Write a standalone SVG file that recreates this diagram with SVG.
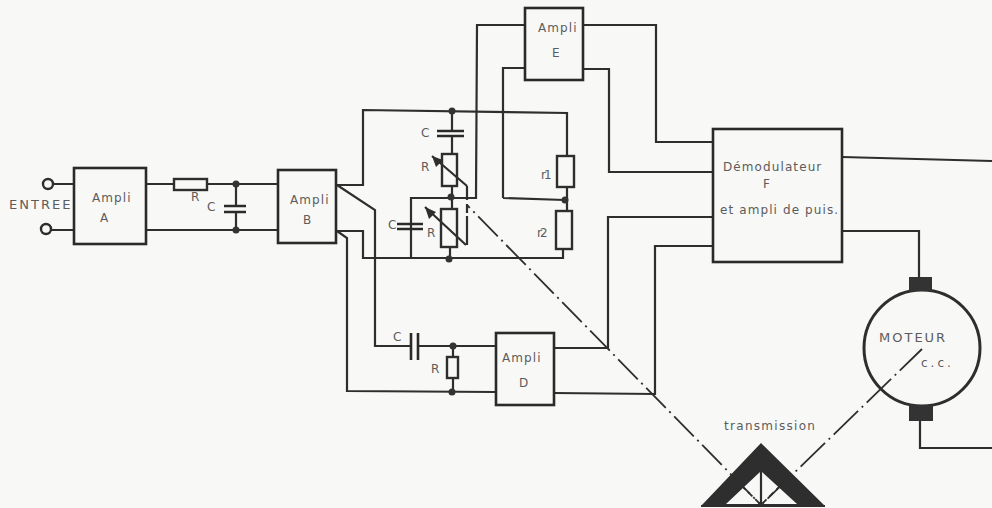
<svg xmlns="http://www.w3.org/2000/svg" width="992" height="508" viewBox="0 0 992 508">
<style>
.w{fill:none;stroke:#2e2e2e;stroke-width:2.2}
.b{fill:none;stroke:#2a2a2a;stroke-width:2.6}
.p{fill:none;stroke:#2e2e2e;stroke-width:2.4}
.d{fill:#333}
.dd{fill:none;stroke:#2e2e2e;stroke-width:1.8}
.t{font-family:"DejaVu Sans",sans-serif;font-size:12px;fill:#5c5c5c;letter-spacing:1.1px}
</style>
<rect width="992" height="508" fill="#f8f8f6"/>
<g id="connectors">
<path class="w" d="M53 184H74M51 230H74"/>
<path class="w" d="M146 184H174M207 184H278M146 230H278"/>
<path class="w" d="M236 184V206M236 212V230"/>
<path class="w" d="M337 185H363V110L567 113V156M567 187V211M563 249V258H363V231H337"/>
<path class="w" d="M337 185L375 210V346H411M418 346H496M337 231L347 238V391L495 392"/>
<path class="w" d="M453 346V357M453 378V392"/>
<path class="w" d="M452 110V131M452 136V154M452 186V209M450 247V258"/>
<path class="w" d="M411 258V198H476L477 25H525"/>
<path class="w" d="M503 198L565 200M503 198V68H525"/>
<path class="w" d="M583 25H656V142H713M583 69H609V172H713"/>
<path class="w" d="M713 217H608V348H554M713 246H655V394L554 393"/>
<path class="w" d="M842 157L992 161M842 231H919V277M920 421V448H992"/>
<path class="w" stroke-dasharray="14 4 9 3 40" d="M467 186V245"/>
<path class="w" d="M432 156L467 186M425 207L466 245"/>
<path class="dd" stroke-dasharray="28 5 2 5" stroke-dashoffset="24" d="M467 205L761 505"/>
<path class="dd" stroke-dasharray="34 5 2 5" stroke-dashoffset="3" d="M922 349L761 505"/>
<path fill="#2e2e2e" d="M432 156L443 160L436 167ZM425 207L436 212L429 219Z"/>
</g>
<g id="entree">
<circle cx="48" cy="184" r="5" fill="#f8f8f6" stroke="#2e2e2e" stroke-width="2.4"/>
<circle cx="46" cy="229" r="5" fill="#f8f8f6" stroke="#2e2e2e" stroke-width="2.4"/>
<text class="t" x="9" y="209" style="font-size:13px;letter-spacing:2px">ENTREE</text>
</g>
<g id="ampli-a"><rect class="b" x="74" y="168" width="72" height="76"/><text class="t" x="92" y="202">Ampli</text><text class="t" x="100" y="222">A</text></g>
<g id="r-in"><rect class="p" x="174" y="179" width="33" height="11"/><text class="t" x="191" y="201">R</text></g>
<g id="c-in"><path class="b" d="M224 206H246M224 212H246"/><circle class="d" cx="236" cy="184" r="3.5"/><circle class="d" cx="236" cy="230" r="3.5"/><text class="t" x="207" y="211">C</text></g>
<g id="ampli-b"><rect class="b" x="278" y="170" width="58" height="73"/><text class="t" x="290" y="204">Ampli</text><text class="t" x="303" y="224">B</text></g>
<g id="c1"><path class="b" d="M437 131H464M437 136H464"/><circle class="d" cx="452" cy="111" r="3.5"/><text class="t" x="421" y="137">C</text></g>
<g id="r-var1"><rect class="p" x="442" y="154" width="15" height="32"/><circle class="d" cx="451" cy="197" r="3.5"/><text class="t" x="421" y="171">R</text></g>
<g id="c2"><path class="b" d="M397 224H423M397 229H423"/><text class="t" x="388" y="229">C</text></g>
<g id="r-var2"><rect class="p" x="441" y="209" width="16" height="38"/><circle class="d" cx="449" cy="259" r="3.5"/><text class="t" x="427" y="237">R</text></g>
<g id="r1"><rect class="p" x="557" y="156" width="17" height="31"/><circle class="d" cx="565" cy="200" r="3.5"/><text class="t" x="541" y="179" style="letter-spacing:-2px">r1</text></g>
<g id="r2"><rect class="p" x="556" y="211" width="16" height="38"/><text class="t" x="537" y="237" style="letter-spacing:-2px">r2</text></g>
<g id="ampli-e"><rect class="b" x="525" y="8" width="58" height="72"/><text class="t" x="538" y="32">Ampli</text><text class="t" x="552" y="57">E</text></g>
<g id="demodulateur"><rect class="b" x="713" y="129" width="129" height="133"/><text class="t" x="723" y="171">Démodulateur</text><text class="t" x="763" y="188">F</text><text class="t" x="720" y="214">et ampli de puis.</text></g>
<g id="c3"><path class="b" d="M411 333V360M418 333V360"/><text class="t" x="393" y="341">C</text></g>
<g id="r3"><rect class="p" x="447" y="357" width="11" height="21"/><circle class="d" cx="453" cy="346" r="3.5"/><circle class="d" cx="452" cy="392" r="3.5"/><text class="t" x="431" y="373">R</text></g>
<g id="ampli-d"><rect class="b" x="496" y="333" width="58" height="72"/><text class="t" x="502" y="362">Ampli</text><text class="t" x="519" y="387">D</text></g>
<g id="moteur">
<circle cx="922" cy="348" r="58" fill="none" stroke="#2e2e2e" stroke-width="3"/>
<rect x="909" y="277" width="23" height="14" fill="#333"/>
<rect x="909" y="405" width="24" height="16" fill="#333"/>
<text class="t" x="879" y="342" style="font-size:13px;letter-spacing:2px">MOTEUR</text>
<text class="t" x="921" y="367" style="letter-spacing:3px">c.c.</text>
</g>
<g id="transmission">
<path fill="#2e2e2e" d="M761 443L825 506H701ZM761 471L726 504H797Z" fill-rule="evenodd"/>
<path class="w" d="M761 471V505M701 506H825"/>
<path class="dd" stroke-dasharray="6 4" d="M734 478L761 505L788 478"/>
<text class="t" x="724" y="430" style="letter-spacing:1.3px">transmission</text>
</g>
</svg>
